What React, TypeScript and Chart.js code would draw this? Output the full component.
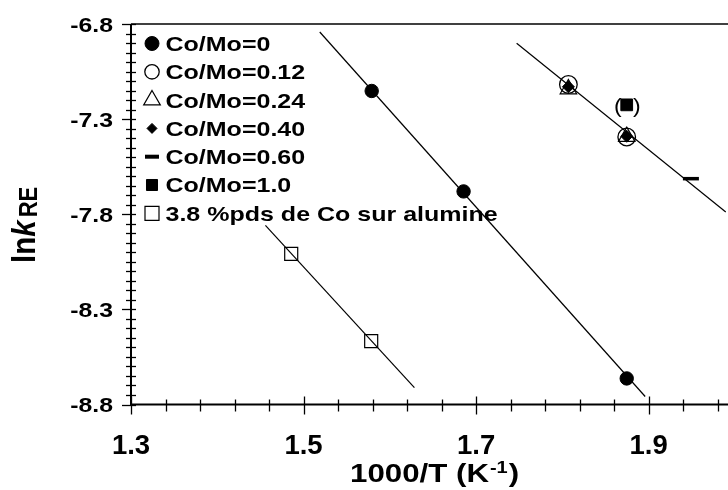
import React, { useEffect, useRef } from 'react';
import { Chart, registerables } from 'chart.js';

Chart.register(...registerables);

// ---- axis ranges & tick labels ----
const X_MIN = 1.3;
const X_MAX = 1.992;
const Y_MIN = -8.8;
const Y_MAX = -6.8;
const xTickLabels = ['1.3', '1.5', '1.7', '1.9'];
const yTickLabels = ['-6.8', '-7.3', '-7.8', '-8.3', '-8.8'];
const xMinorStep = 0.04;
const yMinorStep = 0.05;

// ---- series data ----
const coMo0X = [1.579, 1.6855, 1.8746];
const coMo0Y = [-7.152, -7.68, -8.663];
const coMo012X = [1.807, 1.8746];
const coMo012Y = [-7.118, -7.394];
const coMo024X = [1.807, 1.8746];
const coMo024Y = [-7.142, -7.392];
const coMo040X = [1.807, 1.8746];
const coMo040Y = [-7.13, -7.39];
const coMo060X = [1.949];
const coMo060Y = [-7.613];
const coMo10X = [1.8746];
const coMo10Y = [-7.225];
const aluX = [1.4857, 1.5784];
const aluY = [-8.008, -8.467];

// ---- fitted lines ----
const fit0X = [1.5188, 1.896];
const fit0Y = [-6.842, -8.758];
const fitCoX = [1.747, 1.9894];
const fitCoY = [-6.901, -7.788];
const fitAlX = [1.4558, 1.6285];
const fitAlY = [-7.858, -8.711];

const seriesLabels = [
  'Co/Mo=0',
  'Co/Mo=0.12',
  'Co/Mo=0.24',
  'Co/Mo=0.40',
  'Co/Mo=0.60',
  'Co/Mo=1.0',
  '3.8 %pds de Co sur alumine',
];

const FONT = '"Liberation Sans", Arial, sans-serif';

const pts = (xs: number[], ys: number[]) => xs.map((x, i) => ({ x, y: ys[i] }));

type Marker = {
  style: string;
  r: number;
  legendR: number;
  fill: string;
  lw: number;
  order: number;
};

const markers: Marker[] = [
  { style: 'circle', r: 6.7, legendR: 7, fill: '#000', lw: 1, order: 2 },
  { style: 'circle', r: 8.8, legendR: 7.2, fill: 'rgba(0,0,0,0)', lw: 1.3, order: 6 },
  { style: 'triangle', r: 9.5, legendR: 9.6, fill: 'rgba(0,0,0,0)', lw: 1.2, order: 5 },
  { style: 'rectRot', r: 6, legendR: 5, fill: '#000', lw: 1, order: 3 },
  { style: 'line', r: 8, legendR: 7, fill: '#000', lw: 3.5, order: 2 },
  { style: 'rect', r: 8.3, legendR: 7.8, fill: '#000', lw: 1, order: 2 },
  { style: 'rect', r: 9.2, legendR: 9.9, fill: 'rgba(0,0,0,0)', lw: 1.2, order: 2 },
];

const seriesData = [
  pts(coMo0X, coMo0Y),
  pts(coMo012X, coMo012Y),
  pts(coMo024X, coMo024Y),
  pts(coMo040X, coMo040Y),
  pts(coMo060X, coMo060Y),
  pts(coMo10X, coMo10Y),
  pts(aluX, aluY),
];

function drawMarker(
  ctx: CanvasRenderingContext2D,
  style: string,
  x: number,
  y: number,
  r: number,
  fill: string,
  lw: number
) {
  ctx.save();
  ctx.beginPath();
  ctx.lineWidth = lw;
  ctx.strokeStyle = '#000';
  ctx.fillStyle = fill;
  if (style === 'circle') {
    ctx.arc(x, y, r, 0, Math.PI * 2);
  } else if (style === 'triangle') {
    const a = (2 * Math.PI) / 3;
    ctx.moveTo(x, y - r);
    ctx.lineTo(x + Math.sin(a) * r, y - Math.cos(a) * r);
    ctx.lineTo(x - Math.sin(a) * r, y - Math.cos(a) * r);
    ctx.closePath();
  } else if (style === 'rectRot') {
    ctx.moveTo(x - r, y);
    ctx.lineTo(x, y - r);
    ctx.lineTo(x + r, y);
    ctx.lineTo(x, y + r);
    ctx.closePath();
  } else if (style === 'rect') {
    const s = Math.SQRT1_2 * r;
    ctx.rect(x - s, y - s, 2 * s, 2 * s);
  } else if (style === 'line') {
    ctx.moveTo(x - r, y);
    ctx.lineTo(x + r, y);
    ctx.stroke();
    ctx.restore();
    return;
  }
  ctx.fill();
  ctx.stroke();
  ctx.restore();
}

function stretchText(
  ctx: CanvasRenderingContext2D,
  text: string,
  x: number,
  y: number,
  font: string,
  sx: number,
  align: 'left' | 'right' | 'center'
) {
  ctx.save();
  ctx.font = font;
  const w = ctx.measureText(text).width * sx;
  let left = x;
  if (align === 'right') left = x - w;
  else if (align === 'center') left = x - w / 2;
  ctx.translate(left, y);
  ctx.scale(sx, 1);
  ctx.textAlign = 'left';
  ctx.textBaseline = 'alphabetic';
  ctx.fillStyle = '#000';
  ctx.fillText(text, 0, 0);
  ctx.restore();
  return w;
}

const axesPlugin = {
  id: 'customAxes',
  beforeDatasetsDraw(chart: any) {
    const ctx: CanvasRenderingContext2D = chart.ctx;
    const xs = chart.scales.x;
    const ys = chart.scales.y;
    const { left, top, bottom } = chart.chartArea;
    ctx.save();
    ctx.strokeStyle = '#000';
    // top border
    ctx.lineWidth = 1.5;
    ctx.beginPath();
    ctx.moveTo(left, top);
    ctx.lineTo(chart.width, top);
    ctx.stroke();
    // axes
    ctx.lineWidth = 2;
    ctx.beginPath();
    ctx.moveTo(left, top);
    ctx.lineTo(left, bottom);
    ctx.moveTo(left - 1, bottom);
    ctx.lineTo(chart.width, bottom);
    ctx.stroke();
    // y ticks
    ctx.lineWidth = 1.3;
    const nY = Math.round((Y_MAX - Y_MIN) / yMinorStep);
    for (let i = 0; i <= nY; i++) {
      const v = Y_MAX - i * yMinorStep;
      const py = Math.round(ys.getPixelForValue(v)) + 0.5;
      const major = i % 10 === 0;
      ctx.beginPath();
      ctx.moveTo(left - (major ? 9 : 5), py);
      ctx.lineTo(left + 5, py);
      ctx.stroke();
    }
    // x ticks
    const nX = Math.floor((X_MAX - X_MIN) / xMinorStep + 1e-6);
    for (let i = 0; i <= nX; i++) {
      const v = X_MIN + i * xMinorStep;
      const px = Math.round(xs.getPixelForValue(v)) + 0.5;
      const major = i % 5 === 0;
      ctx.beginPath();
      ctx.moveTo(px, bottom - (major ? 8 : 5));
      ctx.lineTo(px, bottom + (major ? 10 : 7));
      ctx.stroke();
    }
    ctx.restore();
  },
  afterDraw(chart: any) {
    const ctx: CanvasRenderingContext2D = chart.ctx;
    const xs = chart.scales.x;
    const ys = chart.scales.y;
    const { bottom } = chart.chartArea;

    // y tick labels
    yTickLabels.forEach((lab) => {
      const py = ys.getPixelForValue(parseFloat(lab));
      stretchText(ctx, lab, 113, py + 7.7, `bold 20px ${FONT}`, 1.24, 'right');
    });
    // x tick labels
    xTickLabels.forEach((lab) => {
      const px = xs.getPixelForValue(parseFloat(lab));
      stretchText(ctx, lab, px, bottom + 49, `bold 27.5px ${FONT}`, 1.0, 'center');
    });

    // x title: 1000/T (K^-1)
    {
      let x = 350;
      const base = 482;
      x += stretchText(ctx, '1000/T (K', x, base, `bold 25px ${FONT}`, 1.25, 'left');
      x += stretchText(ctx, '-1', x + 1, base - 9.5, `bold 16px ${FONT}`, 1.25, 'left') + 1;
      stretchText(ctx, ')', x + 1, base, `bold 25px ${FONT}`, 1.25, 'left');
    }

    // y title: ln k_RE (rotated)
    {
      ctx.save();
      ctx.translate(35, 263);
      ctx.rotate(-Math.PI / 2);
      ctx.scale(1.05, 1.2);
      ctx.fillStyle = '#000';
      ctx.textAlign = 'left';
      ctx.textBaseline = 'alphabetic';
      ctx.font = `bold 28px ${FONT}`;
      ctx.fillText('ln', 0, 0);
      const w1 = ctx.measureText('ln').width;
      ctx.font = `italic bold 28px ${FONT}`;
      ctx.fillText('k', w1, 0);
      const w2 = ctx.measureText('k').width;
      ctx.font = `bold 21px ${FONT}`;
      ctx.fillText('RE', w1 + w2 + 3, 2 / 1.2);
      ctx.restore();
    }

    // legend
    seriesLabels.forEach((lab, i) => {
      const cy = 43.5 + i * 28.3;
      const m = markers[i];
      drawMarker(ctx, m.style, 152, cy, m.legendR, m.fill, m.style === 'line' ? 4 : m.lw);
      stretchText(ctx, lab, 165.5, cy + 7.4, `bold 20.5px ${FONT}`, 1.22, 'left');
    });

    // parentheses around Co/Mo=1.0 point
    {
      const px = xs.getPixelForValue(coMo10X[0]);
      const py = ys.getPixelForValue(coMo10Y[0]);
      stretchText(ctx, '(', px - 5, py + 8, `20px ${FONT}`, 1.15, 'right');
      stretchText(ctx, ')', px + 6.3, py + 8, `20px ${FONT}`, 1.15, 'left');
    }
  },
};

export default function App() {
  const ref = useRef<HTMLCanvasElement>(null);
  useEffect(() => {
    if (!ref.current) return;
    const fitDs = (xs: number[], ys: number[]) => ({
      label: '',
      data: pts(xs, ys),
      showLine: true,
      borderColor: '#000',
      borderWidth: 1.2,
      pointRadius: 0,
      fill: false,
      order: 10,
      clip: false as any,
    });
    const pointDs = seriesLabels.map((lab, i) => ({
      label: lab,
      data: seriesData[i],
      showLine: false,
      pointStyle: markers[i].style as any,
      pointRadius: markers[i].r,
      pointHoverRadius: markers[i].r,
      pointBackgroundColor: markers[i].fill,
      pointBorderColor: '#000',
      pointBorderWidth: markers[i].lw,
      order: markers[i].order,
      clip: false as any,
    }));
    const chart = new Chart(ref.current, {
      type: 'scatter',
      data: {
        datasets: [
          fitDs(fit0X, fit0Y),
          fitDs(fitCoX, fitCoY),
          fitDs(fitAlX, fitAlY),
          ...pointDs,
        ] as any,
      },
      options: {
        responsive: false,
        animation: false,
        devicePixelRatio: 1,
        layout: { autoPadding: false, padding: { left: 131, top: 24, right: 0, bottom: 85.5 } },
        plugins: {
          legend: { display: false },
          tooltip: { enabled: false },
          title: { display: false },
        },
        events: [],
        scales: {
          x: { type: 'linear', min: X_MIN, max: X_MAX, display: false },
          y: { type: 'linear', min: Y_MIN, max: Y_MAX, display: false },
        },
      },
      plugins: [axesPlugin],
    });
    return () => chart.destroy();
  }, []);
  return (
    <div style={{ position: 'fixed', left: 0, top: 0, width: 728, height: 490, background: '#fff' }}>
      <canvas ref={ref} width={728} height={490} style={{ display: 'block' }} />
    </div>
  );
}
